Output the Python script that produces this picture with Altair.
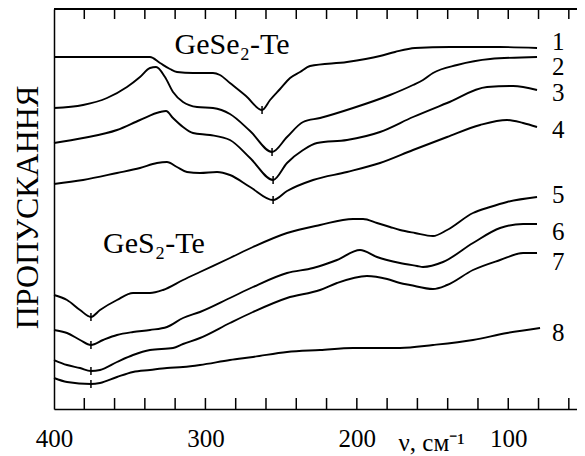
import altair as alt
import pandas as pd

FONT = "Liberation Serif"

# wavenumber (cm^-1) and transmission (arbitrary units) for each curve
wn_1 = [400, 336.6, 330, 323.4, 318.8, 308.2, 295, 290.4, 283.8, 273.2, 262.6, 257.3, 250.7, 244.1, 237.5, 230.9, 206.5, 184.7, 174.8, 161.6, 138.4, 105.4, 81]
tr_1 = [352, 352, 346, 340, 337, 336, 336, 334, 326, 313, 299, 309, 320, 331, 337, 343, 347, 353, 357, 361, 362, 362, 361]

wn_2 = [400, 380.8, 365, 351.8, 343.2, 336.6, 332.6, 326.7, 321.4, 314.8, 305.5, 295, 283.8, 270.5, 256, 246.1, 235.5, 224.3, 202.5, 178.1, 162.9, 156.3, 149.7, 133.8, 112, 81]
tr_2 = [301, 304, 311, 322, 332, 341, 342, 332, 317, 307, 302, 301, 295, 278, 257, 272, 287, 291, 301, 314, 324, 329, 336, 344, 350, 352]

wn_3 = [400, 380.8, 358.4, 343.2, 330, 326, 321.4, 314.8, 308.2, 297, 283.8, 270.5, 255.3, 246.1, 235.5, 226.3, 206.5, 184.7, 162.9, 140.4, 114, 96.8, 81]
tr_3 = [266, 271, 279, 289, 297, 298, 291, 282, 276, 274, 269, 251, 229, 246, 259, 266, 269, 277, 292, 306, 322, 323, 319]

wn_4 = [400, 380.8, 358.4, 343.2, 332, 325.4, 318.8, 312.2, 303.6, 292.3, 283.8, 270.5, 255.3, 246.1, 228.9, 206.5, 184.7, 162.9, 140.4, 118.6, 100.8, 90.2, 81]
tr_4 = [225, 229, 236, 241, 246, 247, 242, 237, 236, 237, 234, 222, 209, 218, 229, 237, 246, 259, 272, 284, 289, 286, 282]

wn_5 = [400, 391.4, 382.8, 375.6, 369.6, 358.4, 347.8, 336.6, 328, 314.8, 303.6, 283.8, 268.6, 246.1, 224.3, 202.5, 195.9, 186.7, 178.1, 171.5, 161.6, 149.7, 140.4, 123.3, 112, 100.8, 81]
tr_5 = [114, 109, 99, 92, 99, 109, 116, 116, 119, 129, 137, 151, 162, 176, 184, 190, 190, 186, 182, 179, 176, 173, 179, 196, 202, 207, 212]

wn_6 = [400, 391.4, 382.8, 375.6, 367.6, 358.4, 347.8, 336.6, 325.4, 314.8, 303.6, 283.8, 268.6, 246.1, 228.9, 213.1, 197.9, 186.7, 171.5, 160.2, 156.3, 143.1, 123.3, 105.4, 90.2, 81]
tr_6 = [79, 76, 69, 64, 69, 74, 77, 79, 82, 91, 97, 111, 122, 136, 141, 149, 159, 152, 146, 143, 142, 147, 166, 181, 185, 185]

wn_7 = [400, 391.4, 382.8, 375.6, 369.6, 358.4, 347.8, 336.6, 321.4, 314.8, 303.6, 283.8, 268.6, 246.1, 224.3, 213.1, 193.3, 180, 171.5, 164.9, 149.7, 140.4, 123.3, 105.4, 90.2, 81]
tr_7 = [49, 44, 41, 38, 39, 47, 54, 59, 61, 65, 71, 86, 97, 111, 119, 126, 133, 130, 126, 124, 120, 124, 139, 149, 156, 156]

wn_8 = [400, 391.4, 375.6, 369.6, 358.4, 347.8, 336.6, 325.4, 314.8, 303.6, 283.8, 268.6, 246.1, 224.3, 202.5, 171.5, 149.7, 123.3, 100.8, 79]
tr_8 = [31, 27, 25, 26, 32, 37, 39, 41, 42, 44, 49, 52, 57, 59, 61, 61, 64, 69, 76, 81]

# minimum markers
min_wn = [262.6, 256, 255.3, 255.3, 375.6, 375.6, 375.6, 375.6]
min_tr = [299, 257, 229, 209, 92, 64, 38, 25]

# curve numbers
curve_names = ["1", "2", "3", "4", "5", "6", "7", "8"]
name_wn = [67, 67, 67, 67, 67, 67, 67, 67]
name_tr = [367, 342, 316, 279, 214, 177, 147, 76]

# group annotations
group_text = ["GeSe₂-Te", "GeS₂-Te"]
group_wn = [282.4, 334]
group_tr = [355, 156]

tick_values = [380, 360, 340, 320, 300, 280, 260, 240, 220, 200, 180, 160, 140, 120, 100, 80, 60]
label_values = [400, 300, 200, 100]

curves = [(wn_1, tr_1), (wn_2, tr_2), (wn_3, tr_3), (wn_4, tr_4),
          (wn_5, tr_5), (wn_6, tr_6), (wn_7, tr_7), (wn_8, tr_8)]
rows = []
for i, (w, t) in enumerate(curves, start=1):
    for a, b in zip(w, t):
        rows.append({"curve": str(i), "wn": a, "tr": b})
df = pd.DataFrame(rows)

W, H = 523, 400
xscale = alt.Scale(domain=[54.6, 400], reverse=True, nice=False, zero=False)
yscale = alt.Scale(domain=[0, 400], nice=False, zero=False)

lines = alt.Chart(df).mark_line(color="black", strokeWidth=1.9, interpolate="monotone").encode(
    x=alt.X("wn:Q", scale=xscale, axis=alt.Axis(
        values=label_values, grid=False, ticks=False, tickSize=0, domain=True,
        domainColor="black", domainWidth=1.5, labelFontSize=25,
        labelColor="black", labelPadding=37, labelBaseline="alphabetic",
        labelFlush=False, format="d",
        title="ν, см⁻¹", titleFontSize=25, titleFontWeight="normal",
        titleColor="black", titleX=344, titleY=41, titleAlign="left",
        titleBaseline="alphabetic")),
    y=alt.Y("tr:Q", scale=yscale, axis=alt.Axis(
        grid=False, ticks=False, labels=False, domain=True, domainColor="black",
        domainWidth=1.5, title="ПРОПУСКАННЯ", titleFontSize=32,
        titleFontWeight="normal", titleColor="black", titleX=-17, titleY=198,
        titleAngle=270, titleAlign="center", titleBaseline="alphabetic")),
    detail="curve:N",
)

tick_df = pd.DataFrame({"wn": tick_values})
bottom_ticks = alt.Chart(tick_df).mark_rule(color="black", strokeWidth=1.5).encode(
    x=alt.X("wn:Q", scale=xscale), y=alt.value(H), y2=alt.value(H - 11))
top_ticks = alt.Chart(tick_df).mark_rule(color="black", strokeWidth=1.5).encode(
    x=alt.X("wn:Q", scale=xscale), y=alt.value(0), y2=alt.value(10))

top_border = alt.Chart(tick_df).mark_rule(color="black", strokeWidth=1.5).encode(
    x=alt.value(0), x2=alt.value(W), y=alt.value(0))

min_df = pd.DataFrame({"wn": min_wn, "tr": min_tr})
min_marks = alt.Chart(min_df).transform_calculate(
    lo="datum.tr - 4", hi="datum.tr + 4"
).mark_rule(color="black", strokeWidth=1.5).encode(
    x=alt.X("wn:Q", scale=xscale), y=alt.Y("lo:Q", scale=yscale), y2="hi:Q")

name_df = pd.DataFrame({"name": curve_names, "wn": name_wn, "tr": name_tr})
names = alt.Chart(name_df).mark_text(fontSize=25, color="black", align="center", baseline="middle").encode(
    x=alt.X("wn:Q", scale=xscale), y=alt.Y("tr:Q", scale=yscale), text="name:N")

group_df = pd.DataFrame({"t": group_text, "wn": group_wn, "tr": group_tr})
groups = alt.Chart(group_df).mark_text(fontSize=30, color="black", align="center", baseline="alphabetic").encode(
    x=alt.X("wn:Q", scale=xscale), y=alt.Y("tr:Q", scale=yscale), text="t:N")

chart = alt.layer(lines, bottom_ticks, top_ticks, top_border, min_marks, names, groups).properties(
    width=W, height=H,
    padding={"left": 46, "top": 1, "right": 0, "bottom": 46},
    autosize=alt.AutoSizeParams(type="none"),
).configure_view(stroke=None).configure(
    background="white", font=FONT
).configure_axis(labelFont=FONT, titleFont=FONT).configure_text(font=FONT)

chart.save("out.html", embed_options={"renderer": "svg", "actions": False})
